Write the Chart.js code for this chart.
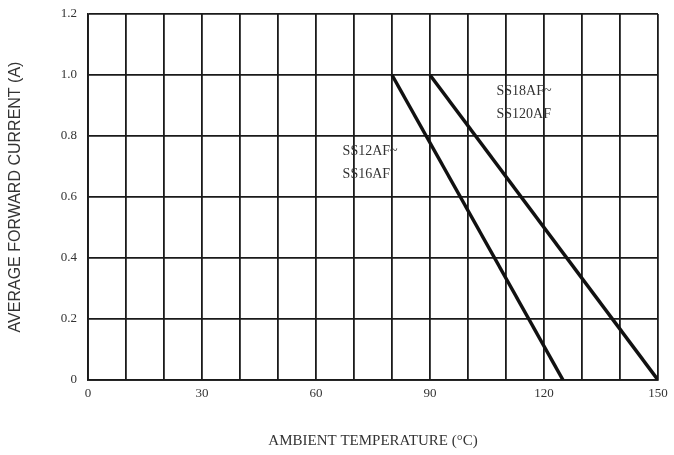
<!DOCTYPE html>
<html>
<head>
<meta charset="utf-8">
<script src="https://cdn.jsdelivr.net/npm/chart.js@4"></script>
<style>
  body { margin: 0; background: #fff; }
  #wrap { width: 674px; height: 455px; }
</style>
</head>
<body>
<div id="wrap"><canvas id="myChart" width="674" height="455"></canvas></div>
<script>
// temperature (°C) / current (A) pairs
const tempLow = [80, 125];
const currentLow = [1.0, 0];
const tempHigh = [90, 150];
const currentHigh = [1.0, 0];

const xTickLabels = [0, 30, 60, 90, 120, 150];
const yTickLabels = ["0", "0.2", "0.4", "0.6", "0.8", "1.0", "1.2"];

// curve names and where they sit (in data units)
const curveNames = [["SS12AF~", "SS16AF"], ["SS18AF~", "SS120AF"]];
const nameX = [67, 107.5];
const nameY = [0.75, 0.945];

const ctx = document.getElementById("myChart").getContext("2d");

const curveLabels = {
    id: "curveLabels",
    afterDatasetsDraw(chart) {
        const c = chart.ctx;
        const xs = chart.scales.x;
        const ys = chart.scales.y;
        c.save();
        c.fillStyle = "#333";
        c.font = "14px 'Liberation Serif'";
        c.textBaseline = "middle";
        c.textAlign = "left";
        curveNames.forEach((lines, i) => {
            const px = xs.getPixelForValue(nameX[i]);
            const py = ys.getPixelForValue(nameY[i]);
            lines.forEach((t, j) => c.fillText(t, px, py + j * 23));
        });
        c.restore();
    }
};

function toPoints(xs, ys) {
    return xs.map((x, i) => ({ x: x, y: ys[i] }));
}

new Chart(ctx, {
    type: "line",
    data: {
        datasets: [
            { data: toPoints(tempLow, currentLow), borderColor: "#111", borderWidth: 3.5, pointRadius: 0, tension: 0 },
            { data: toPoints(tempHigh, currentHigh), borderColor: "#111", borderWidth: 3.5, pointRadius: 0, tension: 0 }
        ]
    },
    options: {
        responsive: false,
        animation: false,
        layout: { padding: { left: 0, right: 16, top: 14, bottom: 0 } },
        plugins: { legend: { display: false }, tooltip: { enabled: false } },
        scales: {
            x: {
                type: "linear",
                min: 0,
                max: 150,
                afterFit(scale) { scale.height = 75; },
                ticks: {
                    stepSize: 10,
                    autoSkip: false,
                    maxRotation: 0,
                    padding: 6,
                    color: "#333",
                    font: { family: "Liberation Serif", size: 13 },
                    callback: (v) => xTickLabels.includes(v) ? String(v) : ""
                },
                grid: { color: "#1a1a1a", lineWidth: 1.8, drawTicks: false },
                border: { color: "#1a1a1a", width: 1.8 },
                title: {
                    display: true,
                    text: "AMBIENT TEMPERATURE (°C)",
                    color: "#333",
                    font: { family: "Liberation Serif", size: 15 },
                    padding: { top: 0, bottom: 5 }
                }
            },
            y: {
                min: 0,
                max: 1.2,
                afterFit(scale) { scale.width = 88; scale.paddingTop = 2; scale.paddingBottom = 2; },
                ticks: {
                    stepSize: 0.2,
                    padding: 11,
                    color: "#333",
                    font: { family: "Liberation Serif", size: 13 },
                    callback: (v, i) => yTickLabels[i]
                },
                grid: { color: "#1a1a1a", lineWidth: 1.8, drawTicks: false },
                border: { color: "#1a1a1a", width: 1.8 },
                title: {
                    display: true,
                    text: "AVERAGE FORWARD CURRENT (A)",
                    color: "#333",
                    font: { family: "Liberation Sans", size: 16 },
                    padding: { top: 6, bottom: 0 }
                }
            }
        }
    },
    plugins: [curveLabels]
});
</script>
</body>
</html>
